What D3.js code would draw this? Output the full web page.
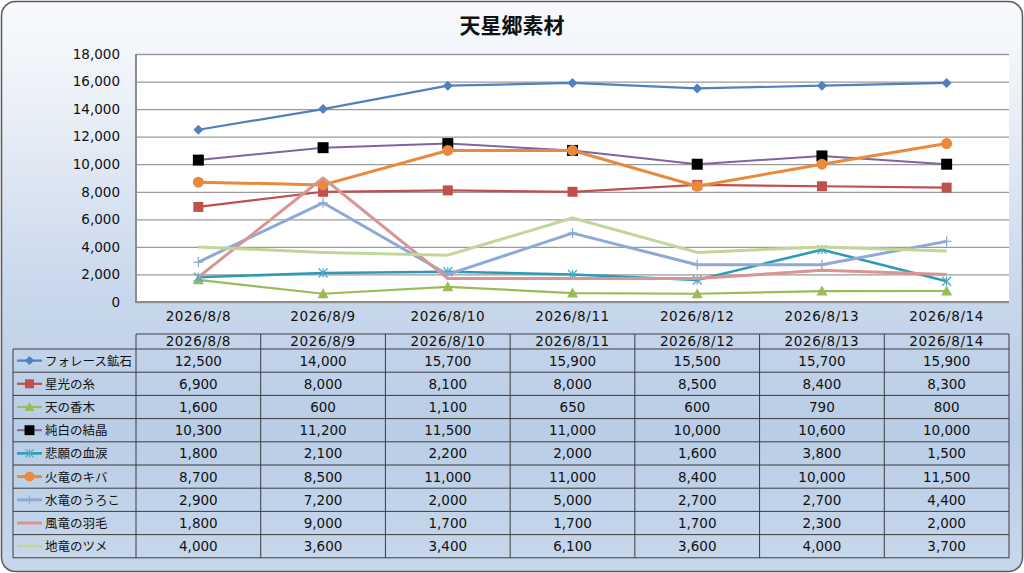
<!DOCTYPE html>
<html>
<head>
<meta charset="utf-8">
<script src="https://cdn.jsdelivr.net/npm/d3@7"></script>
<style>
  body { margin: 0; background: #fff; }
  text { font-family: 'DejaVu Sans', 'Noto Sans CJK JP', sans-serif; fill: #111; }
</style>
</head>
<body>
<div id="chart-area"></div>
<script>

// categories
let dates = ["2026/8/8", "2026/8/9", "2026/8/10", "2026/8/11", "2026/8/12", "2026/8/13", "2026/8/14"];

// series names
let seriesNames = ["フォレース鉱石", "星光の糸", "天の香木", "純白の結晶", "悲願の血涙", "火竜のキバ", "水竜のうろこ", "風竜の羽毛", "地竜のツメ"];

// series values
let forestOre    = [12500, 14000, 15700, 15900, 15500, 15700, 15900];
let starThread   = [6900, 8000, 8100, 8000, 8500, 8400, 8300];
let heavenWood   = [1600, 600, 1100, 650, 600, 790, 800];
let whiteCrystal = [10300, 11200, 11500, 11000, 10000, 10600, 10000];
let bloodTears   = [1800, 2100, 2200, 2000, 1600, 3800, 1500];
let fireFang     = [8700, 8500, 11000, 11000, 8400, 10000, 11500];
let waterScale   = [2900, 7200, 2000, 5000, 2700, 2700, 4400];
let windFeather  = [1800, 9000, 1700, 1700, 1700, 2300, 2000];
let earthClaw    = [4000, 3600, 3400, 6100, 3600, 4000, 3700];

// y ticks
let yTicks = [0, 2000, 4000, 6000, 8000, 10000, 12000, 14000, 16000, 18000];

let allValues = [forestOre, starThread, heavenWood, whiteCrystal, bloodTears, fireFang, waterScale, windFeather, earthClaw];

// styles per series (kept apart from data)
let styles = [
	{line: "#4f81bd", marker: "diamond", fill: "#4f81bd", w: 2.2, size: 5},
	{line: "#c0504d", marker: "square", fill: "#c0504d", w: 2.2, size: 5},
	{line: "#9bbb59", marker: "triangle", fill: "#9bbb59", w: 2.2, size: 5.5},
	{line: "#8064a2", marker: "square", fill: "#000000", w: 2, size: 5.5},
	{line: "#2e9bb5", marker: "asterisk", fill: "#4bacc6", w: 2.6, size: 4.5},
	{line: "#e9893c", marker: "circle", fill: "#e9893c", w: 3, size: 5.5},
	{line: "#8fa9d6", marker: "plus", fill: "#8fa9d6", w: 3, size: 5},
	{line: "#da9593", marker: "none", fill: "#da9593", w: 3, size: 0},
	{line: "#c2d69a", marker: "none", fill: "#c2d69a", w: 3, size: 0}
];

let series = seriesNames.map((name, i) => ({name: name, values: allValues[i], style: styles[i]}));

let width = 1024, height = 573;

let svg = d3.select("#chart-area").append("svg")
	.attr("width", width)
	.attr("height", height);

// background gradient
let defs = svg.append("defs");
let grad = defs.append("linearGradient")
	.attr("id", "bg")
	.attr("x1", 0).attr("y1", 0).attr("x2", 0).attr("y2", 1);
grad.append("stop").attr("offset", "0%").attr("stop-color", "#f8fafd");
grad.append("stop").attr("offset", "15%").attr("stop-color", "#eef2f8");
grad.append("stop").attr("offset", "50%").attr("stop-color", "#c9d8ec");
grad.append("stop").attr("offset", "75%").attr("stop-color", "#b9cde6");
grad.append("stop").attr("offset", "100%").attr("stop-color", "#c8d8ec");

svg.append("rect")
	.attr("x", 1.5).attr("y", 1.5)
	.attr("width", width - 3).attr("height", height - 3)
	.attr("rx", 14)
	.attr("fill", "url(#bg)")
	.attr("stroke", "#5a5a5a")
	.attr("stroke-width", 1.5);

// title
svg.append("text")
	.attr("x", 512).attr("y", 33)
	.attr("text-anchor", "middle")
	.style("font-family", "'Noto Sans CJK JP', sans-serif")
	.style("font-weight", "bold")
	.style("font-size", "21px")
	.text("天星郷素材");

// plot area
let plot = {left: 136, right: 1009, top: 54, bottom: 302};

svg.append("rect")
	.attr("x", plot.left).attr("y", plot.top)
	.attr("width", plot.right - plot.left)
	.attr("height", plot.bottom - plot.top)
	.attr("fill", "#fff");

// scales
let x = d3.scaleBand()
	.domain(dates)
	.range([plot.left, plot.right]);

let y = d3.scaleLinear()
	.domain([0, 18000])
	.range([plot.bottom, plot.top]);

let cx = d => x(d) + x.bandwidth() / 2;

// gridlines
svg.append("g")
	.attr("transform", `translate(${plot.left},0)`)
	.call(d3.axisLeft(y).tickValues(yTicks).tickSize(-(plot.right - plot.left)).tickFormat(""))
	.call(g => g.select(".domain").remove())
	.call(g => g.selectAll("line").attr("stroke", "#9a9a9a").attr("stroke-width", 1.3));

// y axis labels
svg.append("g")
	.attr("transform", `translate(${plot.left},0)`)
	.call(d3.axisLeft(y).tickValues(yTicks).tickSize(0).tickPadding(16).tickFormat(d3.format(",")))
	.call(g => g.select(".domain").remove())
	.call(g => g.selectAll("text").style("font-size", "13.5px").attr("fill", "#111").attr("font-family", null));

// x axis labels
svg.append("g")
	.attr("transform", `translate(0,${plot.bottom})`)
	.call(d3.axisBottom(x).tickSize(0).tickPadding(9))
	.call(g => g.select(".domain").remove())
	.call(g => g.selectAll("text").style("font-size", "13.5px").style("letter-spacing", "0.6px").attr("fill", "#111").attr("font-family", null));

// plot border (left + bottom)
svg.append("path")
	.attr("d", `M${plot.left},${plot.top}V${plot.bottom}H${plot.right}`)
	.attr("fill", "none")
	.attr("stroke", "#8c8c8c")
	.attr("stroke-width", 2);

// marker paths
function markerPath(type, s) {
	if (type == "diamond") return `M0,${-s}L${s},0L0,${s}L${-s},0Z`;
	if (type == "square") return `M${-s},${-s}H${s}V${s}H${-s}Z`;
	if (type == "triangle") return `M0,${-s}L${s},${s * 0.8}H${-s}Z`;
	if (type == "circle") return d3.symbol(d3.symbolCircle, Math.PI * s * s)();
	if (type == "plus") return `M${-s},0H${s}M0,${-s}V${s}`;
	if (type == "asterisk") return `M${-s},${-s}L${s},${s}M${-s},${s}L${s},${-s}M0,${-s}V${s}`;
	return "";
}

let line = d3.line()
	.x((d, i) => cx(dates[i]))
	.y(d => y(d));

let seriesG = svg.selectAll(".series").data(series)
	.enter().append("g")
	.attr("class", "series");

seriesG.append("path")
	.attr("d", d => line(d.values))
	.attr("fill", "none")
	.attr("stroke", d => d.style.line)
	.attr("stroke-width", d => d.style.w)
	.attr("stroke-linejoin", "round");

seriesG.each(function(s) {
	if (s.style.marker == "none") return;
	let open = s.style.marker == "plus" || s.style.marker == "asterisk";
	d3.select(this).selectAll(".mk").data(s.values)
		.enter().append("path")
		.attr("class", "mk")
		.attr("transform", (d, i) => `translate(${cx(dates[i])},${y(d)})`)
		.attr("d", markerPath(s.style.marker, s.style.size))
		.attr("fill", open ? "none" : s.style.fill)
		.attr("stroke", open ? s.style.fill : "none")
		.attr("stroke-width", 1.3);
});

// data table
let table = {left: 13, top: 334, headBottom: 349, rowH: 23.2};
let tableBottom = table.headBottom + table.rowH * series.length;
let lineColor = "#3c3c3c";

let tg = svg.append("g").attr("class", "data-table");

// header
tg.append("line")
	.attr("x1", plot.left).attr("x2", plot.right)
	.attr("y1", table.top).attr("y2", table.top)
	.attr("stroke", lineColor);

tg.selectAll(".head").data(dates)
	.enter().append("text")
	.attr("class", "head")
	.attr("x", d => cx(d))
	.attr("y", table.top + 12)
	.attr("text-anchor", "middle")
	.style("font-size", "13.5px")
	.style("letter-spacing", "0.6px")
	.text(d => d);

// horizontal lines
let rowLines = d3.range(series.length + 1).map(i => table.headBottom + i * table.rowH);
tg.selectAll(".hline").data(rowLines)
	.enter().append("line")
	.attr("x1", table.left).attr("x2", plot.right)
	.attr("y1", d => d).attr("y2", d => d)
	.attr("stroke", lineColor);

// vertical lines
let colLines = dates.map(d => x(d)).concat([plot.right]);
tg.selectAll(".vline").data(colLines)
	.enter().append("line")
	.attr("x1", d => d).attr("x2", d => d)
	.attr("y1", table.top).attr("y2", tableBottom)
	.attr("stroke", lineColor);

tg.append("line")
	.attr("x1", table.left).attr("x2", table.left)
	.attr("y1", table.headBottom).attr("y2", tableBottom)
	.attr("stroke", lineColor);

// rows
let rows = tg.selectAll(".row").data(series)
	.enter().append("g")
	.attr("class", "row")
	.attr("transform", (d, i) => `translate(0,${table.headBottom + i * table.rowH + table.rowH / 2})`);

rows.append("line")
	.attr("x1", 17).attr("x2", 42)
	.attr("stroke", d => d.style.line)
	.attr("stroke-width", d => d.style.w);

rows.filter(d => d.style.marker != "none").append("path")
	.attr("transform", "translate(29.5,0)")
	.attr("d", d => markerPath(d.style.marker, d.style.size * 0.9))
	.attr("fill", d => (d.style.marker == "plus" || d.style.marker == "asterisk") ? "none" : d.style.fill)
	.attr("stroke", d => (d.style.marker == "plus" || d.style.marker == "asterisk") ? d.style.fill : "none")
	.attr("stroke-width", 1.2);

rows.append("text")
	.attr("x", 45)
	.attr("y", 5)
	.style("font-family", "'Noto Sans CJK JP', sans-serif")
	.style("font-size", "12.5px")
	.text(d => d.name);

rows.selectAll(".val").data(d => d.values)
	.enter().append("text")
	.attr("class", "val")
	.attr("x", (d, i) => cx(dates[i]))
	.attr("y", 5)
	.attr("text-anchor", "middle")
	.style("font-size", "13.5px")
	.text(d => d3.format(",")(d));

</script>
</body>
</html>
